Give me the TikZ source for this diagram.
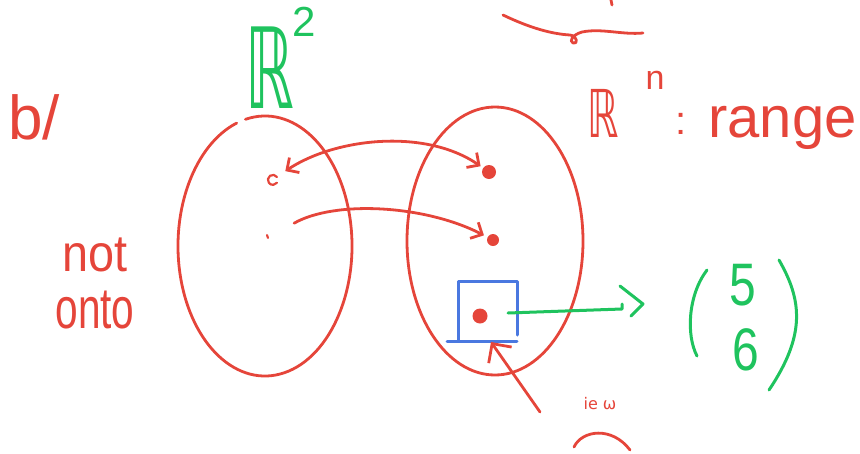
\documentclass[tikz,border=0pt]{standalone}
\usepackage{fontspec}
\setmainfont{Liberation Sans}
\newfontfamily\djv{DejaVu Sans}
\usetikzlibrary{arrows.meta}
\definecolor{pen}{HTML}{E5453A}
\definecolor{gpen}{HTML}{1FC35E}
\definecolor{bpen}{HTML}{4A78E0}
\begin{document}
\begin{tikzpicture}[x=1pt,y=-1pt,line cap=round,line join=round,
  redline/.style={draw=pen,line width=2.8pt},
  greenline/.style={draw=gpen,line width=3pt},
  blueline/.style={draw=bpen,line width=3pt},
  redtext/.style={text=pen,inner sep=0pt},
  greentext/.style={text=gpen,inner sep=0pt},
  dot/.style={circle,fill=pen,inner sep=0pt,minimum size=#1},
  barb/.style={-{Straight Barb[length=9pt,width=18pt]}}]
\useasboundingbox (0,0) rectangle (860,453);

% labels
\node[redtext,font=\fontsize{62}{62}\selectfont] (lb) at (34,117) {b/};
\node[redtext,font=\fontsize{52}{52}\selectfont,xscale=0.9] (lnot) at (95,255) {not};
\node[redtext,font=\fontsize{58}{58}\selectfont,xscale=0.7] (lonto) at (95,310) {onto};
\node[greentext,font=\djv\fontsize{112}{112}\selectfont,xscale=0.55] (r2) at (270,68) {ℝ};
\node[greentext,font=\fontsize{42}{42}\selectfont] (two) at (304,22) {2};
\node[redtext,font=\djv\fontsize{66}{66}\selectfont,xscale=0.6] (rn) at (603,113) {ℝ};
\node[redtext,font=\fontsize{34}{34}\selectfont] (n) at (655,80) {n};
\node[redtext,font=\fontsize{40}{40}\selectfont] (colon) at (681,124) {:};
\node[redtext,font=\fontsize{58}{58}\selectfont,anchor=base west] (range) at (708,137) {range};

% sets
\coordinate (dom) at (265,246);
\coordinate (cod) at (495,241);
\draw[redline] (dom) ++(-103:87 and 130) arc[start angle=-103,end angle=251,x radius=87,y radius=130];
\draw[redline] (cod) ellipse[x radius=88,y radius=134];

% points in the domain
\coordinate (x1) at (272,180);
\coordinate (x2) at (268,238);
\draw[redline,line width=2.2pt] (x1) ++(5,-3) arc[start angle=-35,end angle=-325,radius=5];
\draw[redline,line width=2.2pt] (267,235) -- (x2);

% points in the range
\node[dot=14pt] (y1) at (489,172) {};
\node[dot=12pt] (y2) at (493,240) {};
\node[dot=15pt] (y3) at (480,316) {};

% mappings
\draw[redline,{Straight Barb[length=9pt,width=18pt]}-{Straight Barb[length=9pt,width=18pt]},shorten <=16pt,shorten >=3pt]
  (x1) .. controls (335,138) and (425,128) .. (y1);
\draw[redline,barb,shorten <=30pt,shorten >=4pt]
  (x2) .. controls (335,200) and (425,205) .. (y2);

% blue box around the image point
\draw[blueline] (458,340) -- (458,281) -- (517,281) -- (517,335);
\draw[blueline] (447,341) -- (517,341);
\coordinate (boxb) at (491,342);

% green arrow to the vector
\coordinate (g0) at (508,313);
\coordinate (g1) at (622,309);
\draw[greenline] (g0) -- (g1) -- (622,304);
\draw[greenline] (620,286) -- (643,304) -- (631,316);

% vector (5,6)
\draw[greenline] (707,270) .. controls (688,295) and (686,335) .. (697,356);
\draw[greenline] (779,260) .. controls (802,300) and (806,335) .. (769,390);
\node[greentext,font=\fontsize{60}{60}\selectfont,xscale=0.8] (five) at (743,285) {5};
\node[greentext,font=\fontsize{60}{60}\selectfont,xscale=0.8] (six) at (746,350) {6};

% pointer to the box
\coordinate (pt) at (540,412);
\draw[redline,-{Straight Barb[length=14pt,width=28pt]}] (pt) -- (boxb);

% small scribbles
\node[redtext,font=\djv\fontsize{16}{16}\selectfont] (ie) at (600,404) {ie ω};
\draw[redline] (574,447) .. controls (582,430) and (612,426) .. (630,450);
\draw[redline] (503,15) .. controls (530,28) and (552,34) .. (570,35)
  .. controls (578,36) and (578,45) .. (573,43) .. controls (569,41) and (572,35) .. (582,32)
  .. controls (602,28) and (622,35) .. (643,33);
\draw[redline] (611,0) -- (612,5);
\end{tikzpicture}
\end{document}
